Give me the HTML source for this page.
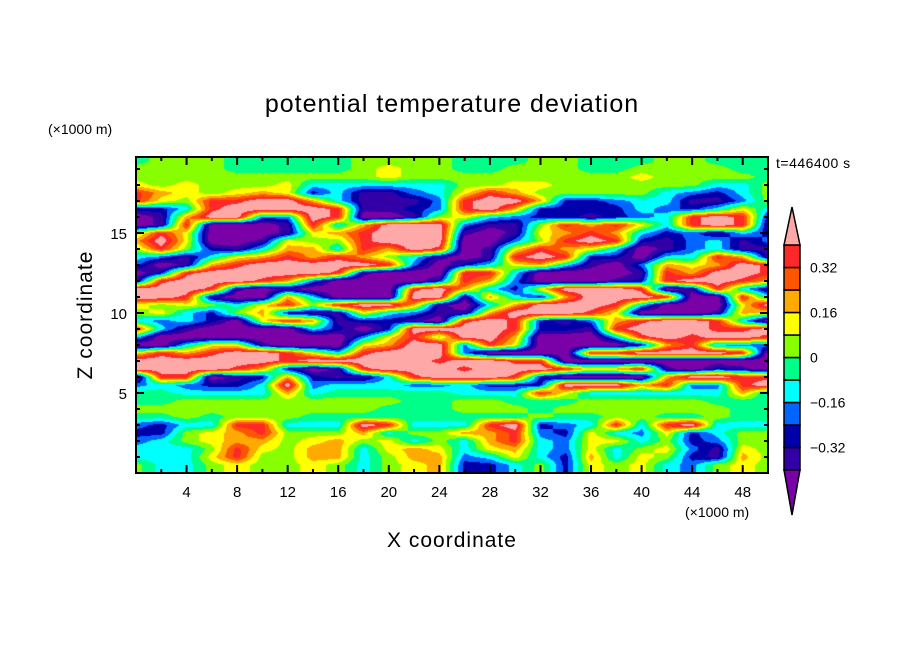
<!DOCTYPE html>
<html><head><meta charset="utf-8">
<style>
html,body{margin:0;padding:0;background:#fff;}
#wrap{position:relative;width:904px;height:654px;overflow:hidden;font-family:"Liberation Sans",sans-serif;}
#field{position:absolute;left:136px;top:157px;}
svg{position:absolute;left:0;top:0;}
</style></head>
<body>
<div id="wrap">
<canvas id="field" width="632" height="316"></canvas>
<svg id="ov" width="904" height="654">
<text x="452" y="112" text-anchor="middle" font-size="25" letter-spacing="1" fill="#000">potential temperature deviation</text>
<text x="48" y="134" font-size="14" fill="#000">(×1000 m)</text>
<text x="776" y="168" font-size="14" fill="#000" letter-spacing="0.5">t=446400 s</text>
<text x="685" y="517" font-size="14" fill="#000">(×1000 m)</text>
<text x="452" y="547" text-anchor="middle" font-size="21" letter-spacing="1" fill="#000">X coordinate</text>
<text transform="translate(92,315) rotate(-90)" text-anchor="middle" font-size="21" letter-spacing="1" fill="#000">Z coordinate</text>
<g id="ticks"></g>
<g id="cbar"></g>
<rect x="136" y="157" width="632" height="316" fill="none" stroke="#000" stroke-width="2"/>
</svg>
</div>
<script>
// grid columns x = 0..50 km step 2; rows z = 20..0 km step 0.5 (top to bottom)
const xKm = [0,2,4,6,8,10,12,14,16,18,20,22,24,26,28,30,32,34,36,38,40,42,44,46,48,50];
const zKm = [20,19.5,19,18.5,18,17.5,17,16.5,16,15.5,15,14.5,14,13.5,13,12.5,12,11.5,11,10.5,10,9.5,9,8.5,8,7.5,7,6.5,6,5.5,5,4.5,4,3.5,3,2.5,2,1.5,1,0.5,0];
const thetaDev = [
[-.04,.04,.04,.04,-.04,-.04,-.04,-.04,-.04,.04,.04,.04,.04,-.04,-.04,-.04,.04,.04,-.04,-.04,-.04,.04,.04,-.04,-.04,-.04],
[-.04,.04,.04,.04,-.04,-.04,-.04,-.04,-.04,.04,.04,.04,.04,-.04,-.04,-.04,.04,.04,-.04,-.04,-.04,.04,.04,-.04,-.04,-.04],
[.04,.04,.04,.04,-.04,-.04,-.04,-.04,-.04,.04,.12,.04,.04,-.04,-.04,.04,.04,.04,-.04,-.04,.04,.04,.04,.04,-.04,-.04],
[.04,.04,.04,.04,.04,.04,.04,.04,.04,.04,.12,.04,.04,.04,.04,.04,.04,.04,.04,.04,.12,.04,.04,.04,.04,-.04],
[.12,.04,.12,.04,.04,.04,.12,-.12,-.12,-.12,-.12,-.12,-.12,.04,.04,.12,.12,.04,.04,.04,.04,.04,.04,-.12,-.12,.04],
[.36,.2,.12,.04,.12,.2,.12,-.28,-.12,-.36,-.36,-.2,-.12,.12,.36,.2,.04,.04,.04,.04,.04,-.12,-.2,-.28,-.12,.04],
[.36,.12,.04,.36,.36,.48,.48,.2,-.12,-.36,-.36,-.36,-.2,.36,.48,.48,.2,-.28,-.28,-.2,-.12,-.12,-.36,-.36,-.2,.04],
[-.28,-.28,-.12,.36,.48,.48,.48,.48,.36,-.36,-.36,-.28,-.2,.36,.48,.2,-.28,-.28,-.28,-.28,-.12,-.2,-.28,-.12,.12,-.12],
[-.48,-.36,.2,.48,.48,-.2,-.2,.48,.36,-.48,-.48,-.36,.04,.12,-.12,-.2,-.28,-.28,-.36,-.28,-.2,-.12,.36,.48,.36,-.28],
[-.48,-.36,.36,-.48,-.48,-.48,-.36,.36,-.12,.2,.48,.48,.48,-.2,-.36,-.36,.04,.36,.2,.36,.12,-.12,.36,.48,.36,-.36],
[.04,.36,.12,-.48,-.48,-.48,-.36,.12,.2,.36,.48,.48,.48,-.36,-.48,-.36,.12,.2,.36,.2,-.12,-.28,-.2,-.36,-.12,-.28],
[.2,.48,.12,-.48,-.48,-.36,.12,.04,.04,.36,.48,.48,.48,-.48,-.48,-.2,.04,.36,.48,.36,-.28,-.36,-.2,-.12,-.36,-.2],
[.04,.36,.04,-.28,-.36,-.12,.2,.2,-.12,.36,.2,.48,.36,-.48,-.36,.12,.36,.2,.12,-.12,-.48,-.36,-.2,-.12,-.36,-.36],
[-.12,-.2,-.36,-.12,.12,.2,.36,.2,.36,.2,.04,-.12,-.36,-.48,-.36,.36,.48,.36,-.28,-.28,-.48,-.12,-.12,.36,.2,-.36],
[-.2,-.48,-.36,.2,.36,.48,.48,.48,.48,.48,.36,-.2,-.48,-.28,-.12,.12,.2,-.12,-.36,-.48,-.2,.2,.12,.2,.48,.36],
[-.48,-.28,.36,.48,.48,.48,.48,.48,.36,-.36,-.48,-.48,-.48,.36,.36,-.12,-.48,-.48,-.48,-.48,-.36,.36,.2,.48,.48,.36],
[-.36,.36,.48,.48,.48,.36,.2,-.2,-.48,-.48,-.48,-.48,-.28,.36,.2,-.2,-.48,-.48,-.48,-.36,-.28,.36,.48,.48,.36,.2],
[.48,.48,.48,.36,-.36,-.48,-.36,-.48,-.48,-.48,-.48,.36,.48,.2,-.12,-.28,.12,.48,.48,.48,.36,-.48,-.36,.36,-.12,-.36],
[.48,.48,.36,-.36,-.48,-.48,.2,-.12,-.48,-.48,-.48,.48,.48,-.36,.2,-.12,-.28,.2,.48,.48,.48,.36,-.48,-.48,.36,-.12],
[.12,.04,.12,.04,-.12,.12,.36,.04,.36,.48,.48,.2,-.36,-.48,-.12,.2,.48,.48,.48,.36,-.12,-.48,-.48,-.48,.12,.48],
[.04,.12,-.12,-.28,.04,.2,-.28,-.36,-.36,.12,-.12,-.2,-.36,-.36,.2,.48,.48,.48,.36,.12,-.48,-.48,-.48,-.36,.2,.12],
[-.12,-.2,-.12,-.28,-.48,.12,.36,.2,-.36,-.28,-.28,-.36,-.48,.36,.48,.36,-.28,-.36,-.2,.2,.36,.48,.48,.36,-.12,-.48],
[.36,-.12,-.36,-.48,-.48,-.48,-.48,-.12,-.28,-.48,-.28,.48,.48,.48,.48,.36,-.28,-.28,-.36,.36,.48,.48,.48,.36,.36,.48],
[-.12,-.48,-.48,-.48,-.48,-.48,-.48,-.48,-.48,-.2,.12,.36,.04,.48,.48,.2,-.48,-.48,-.48,-.12,.36,.48,.36,.48,.48,.36],
[-.48,-.48,-.12,.12,.12,-.36,-.48,-.48,-.48,.12,.2,.48,.48,-.2,.36,.12,-.48,-.48,-.48,-.48,-.28,.2,.36,-.2,-.2,-.2],
[.12,.36,.2,.36,.48,.48,.36,.12,-.12,.36,.48,.48,.48,-.2,-.48,-.48,-.48,-.48,.36,.36,.48,.48,.48,.48,.36,-.48],
[.48,.48,.48,.48,.48,.48,.36,.48,.48,.48,.48,.48,.36,.48,.48,.36,.36,-.48,-.48,-.48,-.48,-.48,-.48,-.48,-.48,-.48],
[.48,.48,.48,.48,.36,.2,-.28,-.48,-.36,.36,.48,.48,.48,.36,.48,.48,.48,.36,.12,.2,.36,-.36,-.48,-.28,-.36,-.48],
[-.48,.36,.36,-.48,-.36,-.28,.2,-.28,-.36,-.36,-.12,.36,.48,.48,.48,.36,-.28,-.48,-.48,-.48,-.48,.2,.48,.48,.36,.36],
[-.2,-.12,-.2,-.28,-.28,-.12,.48,-.2,-.12,-.12,-.12,-.2,-.2,-.12,-.28,-.28,-.28,.48,.48,.48,.2,.36,-.2,-.2,.36,.48],
[-.04,-.04,-.12,-.12,-.12,-.12,.2,-.12,-.04,-.04,-.04,-.04,-.04,-.12,-.12,-.12,.36,.12,-.12,-.12,-.12,-.12,-.12,-.12,.2,-.12],
[-.04,-.04,.04,.04,.04,.04,.04,.04,.04,.04,.04,-.04,-.04,.04,.04,-.04,-.04,-.04,.04,.04,.04,.04,.04,-.04,-.04,-.04],
[.04,.04,.04,.04,.04,.04,.04,.04,.04,.04,-.04,-.04,-.04,.04,.04,.04,-.04,.04,.04,.04,.04,.04,.04,.04,-.04,-.04],
[-.04,-.04,.04,-.04,.04,.04,.04,-.04,-.04,-.04,-.04,-.04,-.04,-.04,-.04,-.04,.04,-.04,-.04,.04,.04,-.04,-.04,.04,-.04,-.04],
[-.2,-.28,-.12,-.12,.36,.36,-.12,-.12,-.12,.48,.36,-.12,-.12,-.12,.36,.48,-.28,-.2,-.12,.36,-.12,.36,.48,-.12,-.12,-.12],
[-.28,-.28,.04,.12,.2,.36,.04,.04,.04,.2,-.12,.04,.04,.2,.2,.36,-.2,-.28,.12,-.12,-.2,.12,-.28,-.12,.04,.04],
[-.2,-.12,.04,.12,.2,.2,.04,.12,.2,.04,.12,-.12,.04,-.12,.2,.36,-.12,-.2,.12,.12,-.12,.04,-.28,-.2,.04,.04],
[-.12,-.12,-.12,.04,.36,.12,.04,.2,.2,-.12,.12,.2,.12,-.12,.12,.2,-.12,-.2,.12,-.12,.04,.12,-.2,-.36,.12,.04],
[-.12,-.12,-.12,.12,.36,.04,.04,.2,.2,-.12,.04,.2,.2,-.2,-.12,.12,-.12,-.28,.2,-.12,.12,.04,-.28,-.36,.2,.04],
[.04,-.12,-.12,.04,.12,.04,.04,.12,.04,-.12,.04,.12,.2,-.28,-.28,-.12,.04,-.28,.12,.04,.12,-.12,-.2,.04,.12,.04],
[.04,-.12,-.12,.04,.12,.04,.04,.12,.04,-.12,.04,.12,.2,-.28,-.28,-.12,.04,-.28,.12,.04,.12,-.12,-.2,.04,.12,.04]
];
const levelBounds = [-0.4,-0.32,-0.24,-0.16,-0.08,0,0.08,0.16,0.24,0.32,0.4];
const levelLabels = ["0.32","0.16","0","\u22120.16","\u22120.32"];
const levelLabelValues = [0.32,0.16,0,-0.16,-0.32];
const xTickValues = [4,8,12,16,20,24,28,32,36,40,44,48];
const yTickValues = [5,10,15];
const palette = ["#7a00a8","#3300a8","#0000aa","#0066ff","#00ffff","#00ff88","#88ff00","#ffff00","#ffaa00","#ff5500","#ff2828","#ffa8a8"];

const PX0=136, PY0=157, PW=632, PH=316, XMAX=50, ZMAX=316/16;
function xs(v){return PX0 + v/XMAX*PW;}
function zs(v){return PY0 + PH - v/ZMAX*PH;}
function colorIndex(v){let i=0;while(i<levelBounds.length && v>=levelBounds[i]) i++;return i;}
function hex(c){return [parseInt(c.slice(1,3),16),parseInt(c.slice(3,5),16),parseInt(c.slice(5,7),16)];}
const rgb = palette.map(hex);

function sample(x,z){
  const nx=xKm.length, nz=zKm.length;
  const dx=xKm[1]-xKm[0], dz=zKm[0]-zKm[1];
  let fx=(x-xKm[0])/dx, fz=(zKm[0]-z)/dz;
  fx=Math.max(0,Math.min(nx-1.0001,fx)); fz=Math.max(0,Math.min(nz-1.0001,fz));
  const i=Math.floor(fx), j=Math.floor(fz), tx=fx-i, tz=fz-j;
  const g=(r,c)=>{const row=thetaDev[Math.min(r,thetaDev.length-1)];return row[Math.min(c,row.length-1)];};
  const a=g(j,i), b=g(j,i+1), c=g(j+1,i), d=g(j+1,i+1);
  return (a*(1-tx)+b*tx)*(1-tz)+(c*(1-tx)+d*tx)*tz;
}
(function draw(){
  const cv=document.getElementById('field'), ctx=cv.getContext('2d');
  const img=ctx.createImageData(PW,PH);
  for(let py=0;py<PH;py++){
    const z=ZMAX*(1-(py+0.5)/PH);
    for(let px=0;px<PW;px++){
      const x=XMAX*(px+0.5)/PW;
      const col=rgb[colorIndex(sample(x,z))];
      const k=(py*PW+px)*4;
      img.data[k]=col[0];img.data[k+1]=col[1];img.data[k+2]=col[2];img.data[k+3]=255;
    }
  }
  ctx.putImageData(img,0,0);
})();
const NS="http://www.w3.org/2000/svg";
function mk(tag,attrs,parent){const e=document.createElementNS(NS,tag);for(const k in attrs)e.setAttribute(k,attrs[k]);parent.appendChild(e);return e;}
(function axes(){
  const g=document.getElementById('ticks');
  for(let v=2;v<50;v+=2){
    const major=v%4===0, L=major?8:4, x=xs(v);
    const t1=mk('line',{x1:x,y1:PY0+PH,x2:x,y2:PY0+PH-L,stroke:'#000','stroke-width':2},g);
    
    
    const t2=mk('line',{x1:x,y1:PY0,x2:x,y2:PY0+L,stroke:'#000','stroke-width':2},g);
    
    
  }
  for(let v=1;v<20;v++){
    const major=v%5===0, L=major?8:4, y=zs(v);
    if(y<PY0+1) continue;
    const t1=mk('line',{x1:PX0,y1:y,x2:PX0+L,y2:y,stroke:'#000','stroke-width':2},g);
    
    
    const t2=mk('line',{x1:PX0+PW,y1:y,x2:PX0+PW-L,y2:y,stroke:'#000','stroke-width':2},g);
    
    
  }
  xTickValues.forEach(v=>{
    const t=mk('text',{x:xs(v),y:497,'text-anchor':'middle','font-size':15,fill:'#000'},g);
    t.textContent=String(v);
    
    
  });
  yTickValues.forEach(v=>{
    const t=mk('text',{x:127,y:zs(v)+6,'text-anchor':'end','font-size':15,fill:'#000'},g);
    t.textContent=String(v);
    
    
  });
})();
(function colorbar(){
  const g=document.getElementById('cbar');
  const X=784, W=16, top=245, bot=470, n=levelBounds.length-1, h=(bot-top)/n;
  const cy=v=>bot-(v-levelBounds[0])/(levelBounds[n]-levelBounds[0])*(bot-top);
  for(let i=0;i<n;i++){
    const r=mk('rect',{x:X,y:cy(levelBounds[i+1]),width:W,height:h,fill:palette[i+1],stroke:'#000','stroke-width':1.5},g);
    
    
  }
  const t1=mk('polygon',{points:`${X},${top} ${X+W},${top} ${X+W/2},207`,fill:palette[palette.length-1],stroke:'#000','stroke-width':1.5},g);
  
  
  const t2=mk('polygon',{points:`${X},${bot} ${X+W},${bot} ${X+W/2},515`,fill:palette[0],stroke:'#000','stroke-width':1.5},g);
  
  
  levelLabelValues.forEach((v,i)=>{
    const t=mk('text',{x:810,y:cy(v)+5,'font-size':14,fill:'#000'},g);
    t.textContent=levelLabels[i];
    
    
  });
})();
</script>
</body></html>
